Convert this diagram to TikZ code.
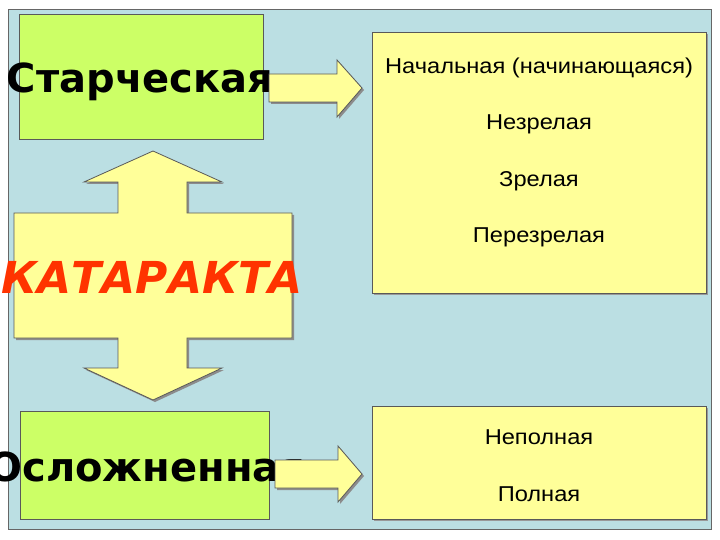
\documentclass[tikz,border=0pt]{standalone}
\usepackage{fontspec}
\setmainfont{Liberation Sans}
\newfontfamily\dejavu{DejaVu Sans}
\newfontfamily\listfont[FakeStretch=1.1]{Liberation Sans}
\definecolor{bgblue}{HTML}{BBDFE3}
\definecolor{limegreen}{HTML}{CCFF66}
\definecolor{paleyellow}{HTML}{FFFF99}
\definecolor{katred}{HTML}{FF3300}
\tikzset{
  panel/.style={draw=black!65, line width=0.8pt, inner sep=0pt, outer sep=0pt},
  greenbox/.style={panel, fill=limegreen},
  yellowbox/.style={panel, fill=paleyellow},
  shapefill/.style={draw=black!65, line width=0.8pt, fill=paleyellow},
  shadowfill/.style={fill=black!45, draw=none},
  bigword/.style={font=\dejavu\bfseries\fontsize{40}{40}\selectfont, anchor=base, inner sep=0pt},
  smallword/.style={font=\listfont\fontsize{21.5}{24}\selectfont, anchor=base, inner sep=0pt},
}
\begin{document}
\begin{tikzpicture}[x=1pt,y=-1pt]
\useasboundingbox (0,0) rectangle (720,540);
\fill[white] (0,0) rectangle (720,540);
\draw[fill=bgblue, draw=black!60, line width=0.8pt] (8,9) rectangle (711,529);

% boxes
\node[greenbox, minimum width=244pt, minimum height=125pt] (star) at (141,76.5) {};
\node[greenbox, minimum width=249pt, minimum height=108pt] (oslo) at (144.5,465) {};
\fill[black!40] (374,34) rectangle (708,295);
\node[yellowbox, minimum width=334pt, minimum height=261pt] (stages) at (539,162.5) {};
\fill[black!40] (374,408) rectangle (708,521);
\node[yellowbox, minimum width=334pt, minimum height=113pt] (kinds) at (539,462.5) {};

% double vertical arrow
\path[shadowfill] (155,153) -- (224,184) -- (189,184) -- (189,215) -- (294,215) -- (294,340)
  -- (189,340) -- (189,370) -- (224,370) -- (155,402) -- (86,370) -- (120,370) -- (120,340)
  -- (16,340) -- (16,215) -- (120,215) -- (120,184) -- (86,184) -- cycle;
\draw[shapefill] (153,151) -- (222,182) -- (187,182) -- (187,213) -- (292,213) -- (292,338)
  -- (187,338) -- (187,368) -- (222,368) -- (153,400) -- (84,368) -- (118,368) -- (118,338)
  -- (14,338) -- (14,213) -- (118,213) -- (118,182) -- (84,182) -- cycle;
\node[font=\dejavu\bfseries\itshape\fontsize{44}{44}\selectfont, text=katred, anchor=base, inner sep=0pt] (kat) at (152,293) {КАТАРАКТА};

% big labels
\node[bigword] (starT) at (140,93) {Старческая};
\node[bigword] (osloT) at (147,481) {Осложненная};

% right arrows
\path[shadowfill] (271,76) -- (339,76) -- (339,62) -- (364,90) -- (339,119) -- (339,104) -- (271,104) -- cycle;
\draw[shapefill] (269,74) -- (337,74) -- (337,60) -- (362,88) -- (337,117) -- (337,102) -- (269,102) -- cycle;
\path[shadowfill] (277,462) -- (340,462) -- (340,448) -- (364,476) -- (340,504) -- (340,490) -- (277,490) -- cycle;
\draw[shapefill] (275,460) -- (338,460) -- (338,446) -- (362,474) -- (338,502) -- (338,488) -- (275,488) -- cycle;

% list texts
\node[smallword] (s1) at (539,74) {Начальная (начинающаяся)};
\node[smallword] (s2) at (539,130) {Незрелая};
\node[smallword] (s3) at (539,186.5) {Зрелая};
\node[smallword] (s4) at (539,243) {Перезрелая};
\node[smallword] (k1) at (539,444) {Неполная};
\node[smallword] (k2) at (539,501) {Полная};
\end{tikzpicture}
\end{document}
